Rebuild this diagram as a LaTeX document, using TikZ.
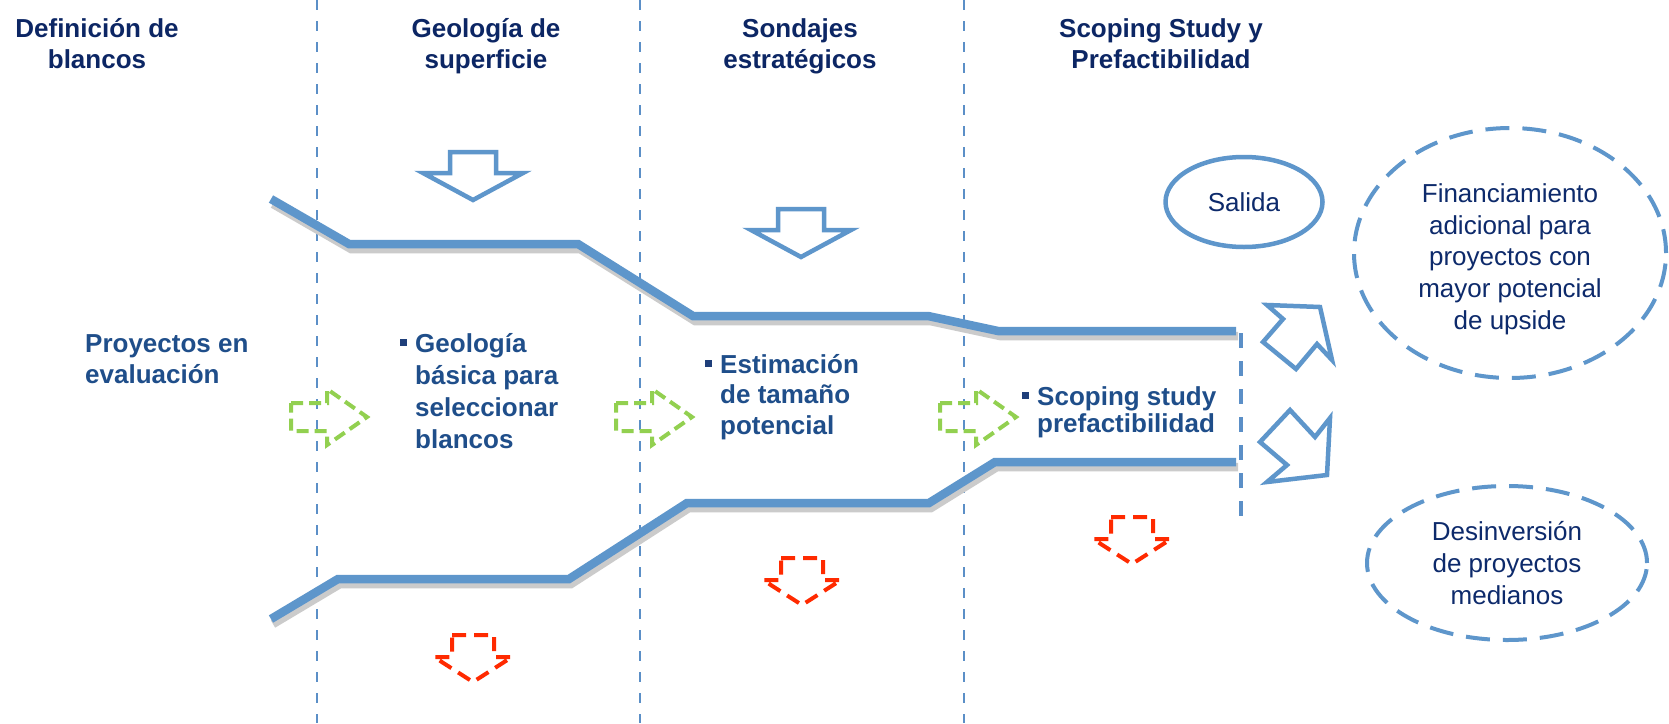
\documentclass[tikz,border=0pt]{standalone}
\usepackage{fontspec}
\setmainfont{Liberation Sans}
\usetikzlibrary{shapes.geometric}
\definecolor{hdr}{HTML}{0C2664}
\definecolor{bodyc}{HTML}{1F4E8A}
\definecolor{bulc}{HTML}{1F3F7A}
\definecolor{elc}{HTML}{0D2A6B}
\definecolor{pipe}{HTML}{5E96CB}
\definecolor{vline}{HTML}{5B8FC7}
\definecolor{grn}{HTML}{92D050}
\definecolor{rd}{HTML}{FF2A00}
\definecolor{shad}{HTML}{CBCBCB}
\newcommand{\bul}{\llap{\textcolor{bulc}{\rule[6pt]{7pt}{7pt}}\hspace{8pt}}}
\begin{document}
\begin{tikzpicture}[x=1pt,y=-1pt,
  hdrtxt/.style={font=\bfseries\fontsize{26}{31}\selectfont, text=hdr, align=center, inner sep=0pt, anchor=north},
  bodytxt/.style={font=\bfseries\fontsize{26}{31.5}\selectfont, text=bodyc, align=left, inner sep=0pt, anchor=north west},
  eltxt/.style={font=\fontsize{26}{31.7}\selectfont, text=elc, align=center, inner sep=0pt},
  sepline/.style={vline, line width=2.5pt, dash pattern=on 10pt off 11pt},
  pipeline/.style={pipe, line width=8.5pt, line join=miter},
  pipeshadow/.style={shad, line width=8.5pt, line join=miter},
  dashell/.style={ellipse, draw=pipe, line width=4pt, dash pattern=on 24pt off 13pt},
  bluedown/.pic={\draw[pipe, line width=4.5pt, line join=miter] (-23,0) -- (23,0) -- (23,21) -- (50,21) -- (0,48) -- (-50,21) -- (-23,21) -- cycle;},
  reddown/.pic={\draw[rd, line width=4pt, dash pattern=on 14pt off 8pt] (-21,0) -- (21,0) -- (21,22) -- (39,22) -- (0,47) -- (-39,22) -- (-21,22) -- cycle;},
  greenright/.pic={\draw[grn, line width=4pt, dash pattern=on 12pt off 6pt] (0,-14) -- (36,-14) -- (36,-28) -- (76,0) -- (36,28) -- (36,14) -- (0,14) -- cycle;}
]
\useasboundingbox (0,0) rectangle (1669,723);
\fill[white] (0,0) rectangle (1669,723);

% separators
\draw[sepline] (317,0) -- (317,723);
\draw[sepline] (640,0) -- (640,723);
\draw[sepline] (964,0) -- (964,723);
\draw[vline, line width=3.5pt, dash pattern=on 15pt off 13pt] (1241,333) -- (1241,522);

% headers
\node[hdrtxt] (h1) at (97,18) {Definición de\\blancos};
\node[hdrtxt] (h2) at (486,18) {Geología de\\superficie};
\node[hdrtxt] (h3) at (800,18) {Sondajes\\estratégicos};
\node[hdrtxt] (h4) at (1161,18) {Scoping Study y\\Prefactibilidad};

% pipes
\begin{scope}[shift={(2,5)}]
\draw[pipeshadow] (271,199) -- (349,244) -- (578,244) -- (693,316) -- (928,316) -- (998,331) -- (1236,331);
\draw[pipeshadow] (271,619) -- (338,579) -- (569,579) -- (687,503) -- (929,503) -- (995,462) -- (1236,462);
\end{scope}
\draw[pipeline] (271,199) -- (349,244) -- (578,244) -- (693,316) -- (928,316) -- (998,331) -- (1236,331);
\draw[pipeline] (271,619) -- (338,579) -- (569,579) -- (687,503) -- (929,503) -- (995,462) -- (1236,462);

% arrows
\pic at (473,152) {bluedown};
\pic at (801,209) {bluedown};
\pic at (473,635) {reddown};
\pic at (802,558) {reddown};
\pic at (1132,517) {reddown};
\pic at (291,417) {greenright};
\pic at (616,417) {greenright};
\pic at (940,417) {greenright};

\draw[pipe, line width=4.5pt, line join=miter] (1267,305) -- (1320,307) -- (1332,360) -- (1317,344) -- (1296,369) -- (1263,342) -- (1283,319) -- cycle;
\draw[pipe, line width=4.5pt, line join=miter] (1290,410) -- (1315,437) -- (1330,418) -- (1327,475) -- (1267,482) -- (1287,465) -- (1260,442) -- cycle;

% body texts
\node[bodytxt] (proy) at (85,334) {Proyectos en\\evaluación};
\node[bodytxt, font=\bfseries\fontsize{26}{32}\selectfont] (geo) at (415,333) {\bul Geología\\básica para\\seleccionar\\blancos};
\node[bodytxt, font=\bfseries\fontsize{26}{30.5}\selectfont] (est) at (720,354) {\bul Estimación\\de tamaño\\potencial};
\node[bodytxt, font=\bfseries\fontsize{26}{27}\selectfont] (scop) at (1037,386) {\bul Scoping study\\prefactibilidad};

% ellipses
\node[ellipse, draw=pipe, line width=4.5pt, minimum width=157, minimum height=90, eltxt] (salida) at (1244,202) {Salida};
\node[dashell, minimum width=312, minimum height=250, eltxt] (fin) at (1510,253) {\rule{0pt}{31pt}Financiamiento\\adicional para\\proyectos con\\mayor potencial\\de upside};
\node[dashell, minimum width=280, minimum height=154, eltxt] (des) at (1507,563) {Desinversión\\de proyectos\\medianos};
\end{tikzpicture}
\end{document}
